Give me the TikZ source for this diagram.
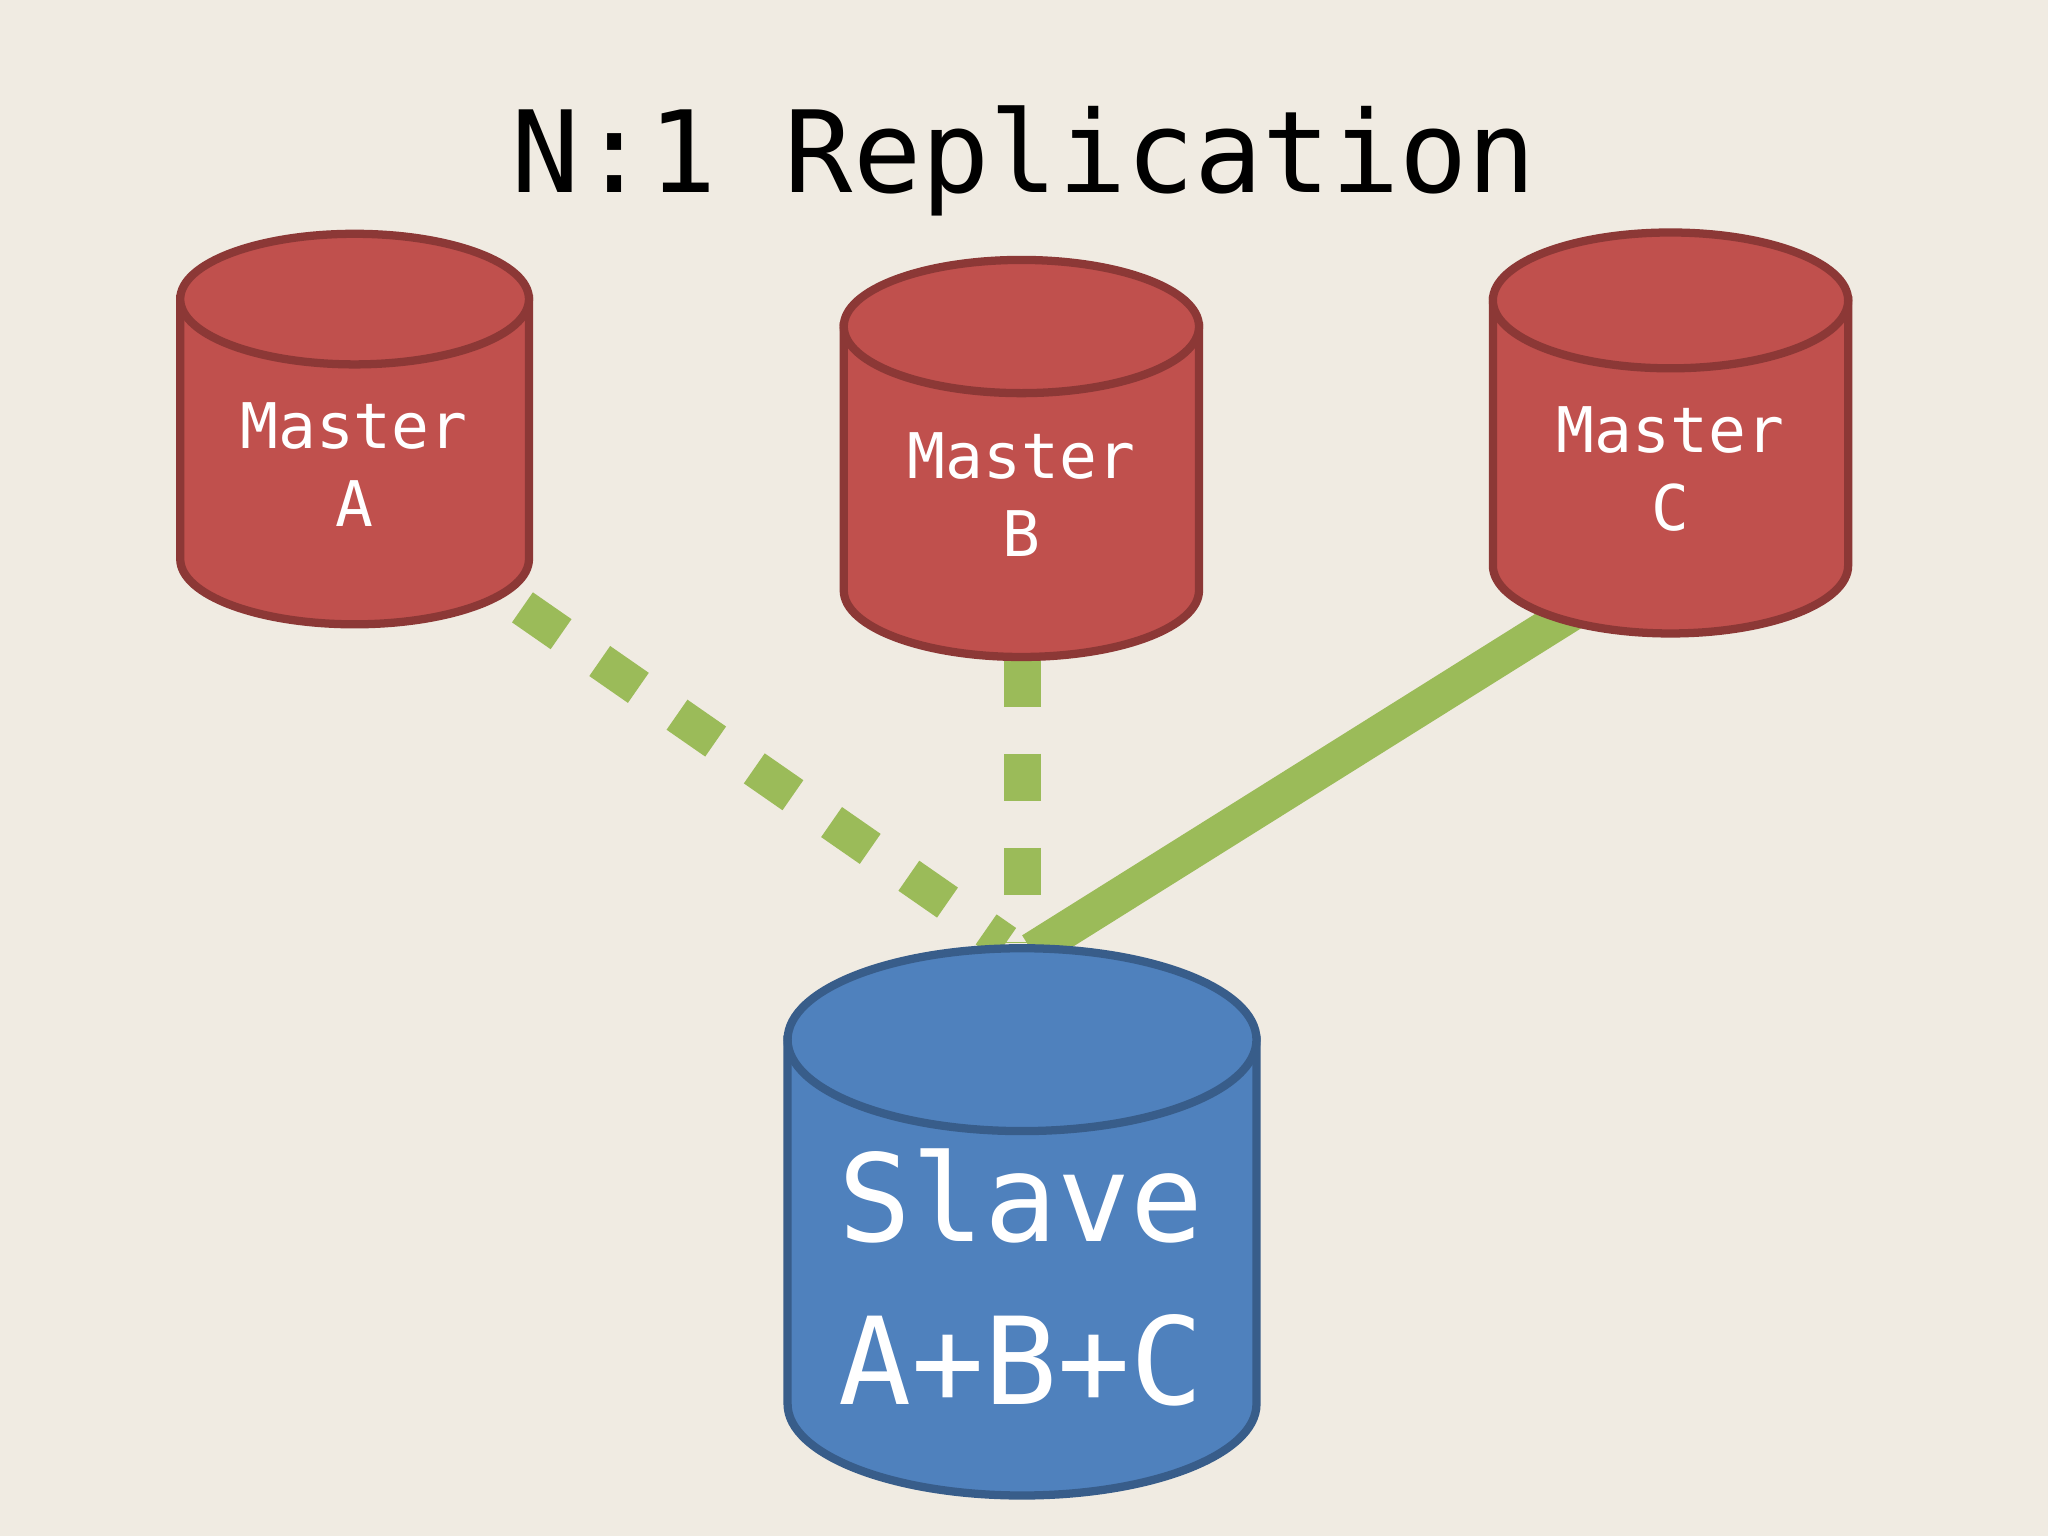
\documentclass[tikz,border=0pt]{standalone}
\usepackage{fontspec}
\setmonofont{DejaVu Sans Mono}
\definecolor{bg}{HTML}{F0EBE2}
\definecolor{red1}{HTML}{C0504D}
\definecolor{red2}{HTML}{8C3836}
\definecolor{blue1}{HTML}{4F81BD}
\definecolor{blue2}{HTML}{385D8A}
\definecolor{grn}{HTML}{9BBB59}
\tikzset{link/.style={grn,line width=0.28cm},
 dsh/.style={link,dash pattern=on 0.36cm off 0.36cm},
 lbl/.style={text=white,font=\ttfamily,align=center}}
\begin{document}
\begin{tikzpicture}[x=0.01cm,y=-0.01cm]
\fill[bg] (0,0) rectangle (1568,1176);
\node[font=\ttfamily\fontsize{24.7}{30}\selectfont] (title) at (784,123) {N:1 Replication};
\coordinate (a1) at (400,465); \coordinate (a2) at (770,722);
\coordinate (b1) at (783,505); \coordinate (b2) at (783,722);
\coordinate (c1) at (1205,468); \coordinate (c2) at (790,728);
\draw[dsh] (a1) -- (a2);
\draw[dsh] (b1) -- (b2);
\draw[link] (c1) -- (c2);
\foreach \xa/\xb/\yt/\yb/\ry/\f/\d in {138/405/229/428/50/red1/red2, 646/918/250/452/51/red1/red2, 1143/1415/230/433/52/red1/red2, 603/962/796/1075/70/blue1/blue2}{
 \path[fill=\f,draw=\d,line width=1.8pt] (\xa,\yt) -- (\xa,\yb) arc[start angle=180,end angle=0,x radius={(\xb-\xa)/2},y radius=\ry] -- (\xb,\yt) -- cycle;
 \path[fill=\f,draw=\d,line width=1.8pt] (\xa,\yt) arc[start angle=180,end angle=-180,x radius={(\xb-\xa)/2},y radius=\ry];
}
\node[lbl,font=\ttfamily\fontsize{13.7}{17}\selectfont] (ma) at (271,356) {Master\\A};
\node[lbl,font=\ttfamily\fontsize{13.7}{17}\selectfont] (mb) at (782,379) {Master\\B};
\node[lbl,font=\ttfamily\fontsize{13.7}{17}\selectfont] (mc) at (1279,359) {Master\\C};
\node[lbl,font=\ttfamily\fontsize{26.4}{35.5}\selectfont] (sl) at (782,978) {Slave\\A+B+C};
\end{tikzpicture}
\end{document}
